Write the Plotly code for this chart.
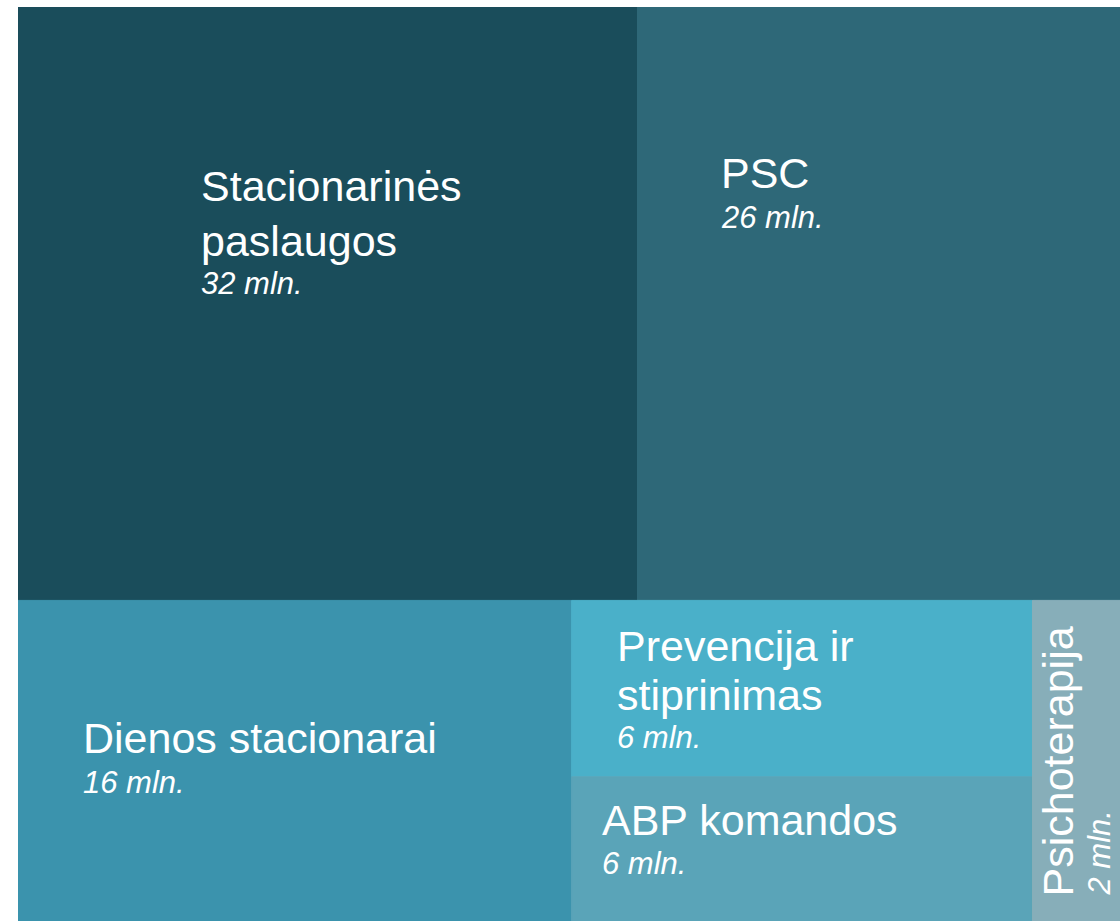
import plotly.graph_objects as go

# ---- data ----
categories = ["Stacionarinės paslaugos", "PSC", "Dienos stacionarai",
              "Prevencija ir stiprinimas", "ABP komandos", "Psichoterapija"]
display_lines = [["Stacionarinės", "paslaugos"], ["PSC"], ["Dienos stacionarai"],
                 ["Prevencija ir", "stiprinimas"], ["ABP komandos"], ["Psichoterapija"]]
value_labels = [32, 26, 16, 6, 6, 2]            # mln., as printed on tiles
tile_sizes = [32.1, 25.0, 15.5, 7.1, 5.8, 2.45]  # tile areas (mln.)
colors = ["#1a4d5b", "#2e6878", "#3b93ad", "#4ab0c9", "#5aa4b8", "#87aeb9"]

# ---- layout of tiles (computed from sizes) ----
def tile_rects(s):
    T = sum(s)
    top = s[0] + s[1]
    bottom = T - top
    ys = 1 - top / T
    rects = []
    x = 0.0
    for v in s[:2]:
        w = v / top
        rects.append((x, x + w, ys, 1.0))
        x += w
    wd = s[2] / bottom
    rects.append((0.0, wd, 0.0, ys))
    wm = (s[3] + s[4]) / bottom
    yp = ys * (1 - s[3] / (s[3] + s[4]))
    rects.append((wd, wd + wm, yp, ys))
    rects.append((wd, wd + wm, 0.0, yp))
    rects.append((wd + wm, 1.0, 0.0, ys))
    return rects

rects = tile_rects(tile_sizes)

FONT = "Liberation Sans, Arial, sans-serif"
NAME_SIZE = 43
VAL_SIZE = 31
fig = go.Figure()
for (x0, x1, y0, y1), c, name in zip(rects, colors, categories):
    fig.add_trace(go.Scatter(
        x=[x0, x1, x1, x0, x0], y=[y0, y0, y1, y1, y0],
        mode="lines", fill="toself", fillcolor=c,
        line=dict(color=c, width=1), hoverinfo="skip", showlegend=False, name=name))

# label placement (pixels from tile top-left): dx, first-line dy, line step, value dy
placement = [(181, 153, 55, 257), (81, 140, 55, 191), (63, 112, 55, 163),
             (43, 20, 49, 118), (28, 17, 55, 67)]
for i, (dx, dy, step, vdy) in enumerate(placement):
    x0, x1, y0, y1 = rects[i]
    for k, line in enumerate(display_lines[i]):
        fig.add_annotation(x=x0, y=y1, xref="x", yref="y", xanchor="left", yanchor="top",
                           xshift=dx, yshift=-(dy + k * step), showarrow=False,
                           text=line, font=dict(family=FONT, size=NAME_SIZE, color="white"))
    fig.add_annotation(x=x0, y=y1, xref="x", yref="y", xanchor="left", yanchor="top",
                       xshift=dx, yshift=-vdy, showarrow=False,
                       text=f"<i>{value_labels[i]} mln.</i>",
                       font=dict(family=FONT, size=VAL_SIZE, color="white"))

# rotated label for the narrow tile
x0, x1, y0, y1 = rects[5]
fig.add_annotation(x=x0, y=y0, xref="x", yref="y", xanchor="left", yanchor="bottom",
                   xshift=0, yshift=23, showarrow=False, textangle=-90,
                   text=display_lines[5][0], font=dict(family=FONT, size=NAME_SIZE, color="white"))
fig.add_annotation(x=x0, y=y0, xref="x", yref="y", xanchor="left", yanchor="bottom",
                   xshift=48, yshift=24, showarrow=False, textangle=-90,
                   text=f"<i>{value_labels[5]} mln.</i>",
                   font=dict(family=FONT, size=VAL_SIZE, color="white"))

fig.update_layout(
    width=1120, height=921,
    margin=dict(l=18, r=0, t=7, b=0, autoexpand=False),
    paper_bgcolor="white", plot_bgcolor="white",
    xaxis=dict(range=[0, 1], visible=False, fixedrange=True),
    yaxis=dict(range=[0, 1], visible=False, fixedrange=True),
    hovermode=False,
)
fig.write_html("out.html", config={"displayModeBar": False},
               post_script="document.body.style.margin='0px';")
